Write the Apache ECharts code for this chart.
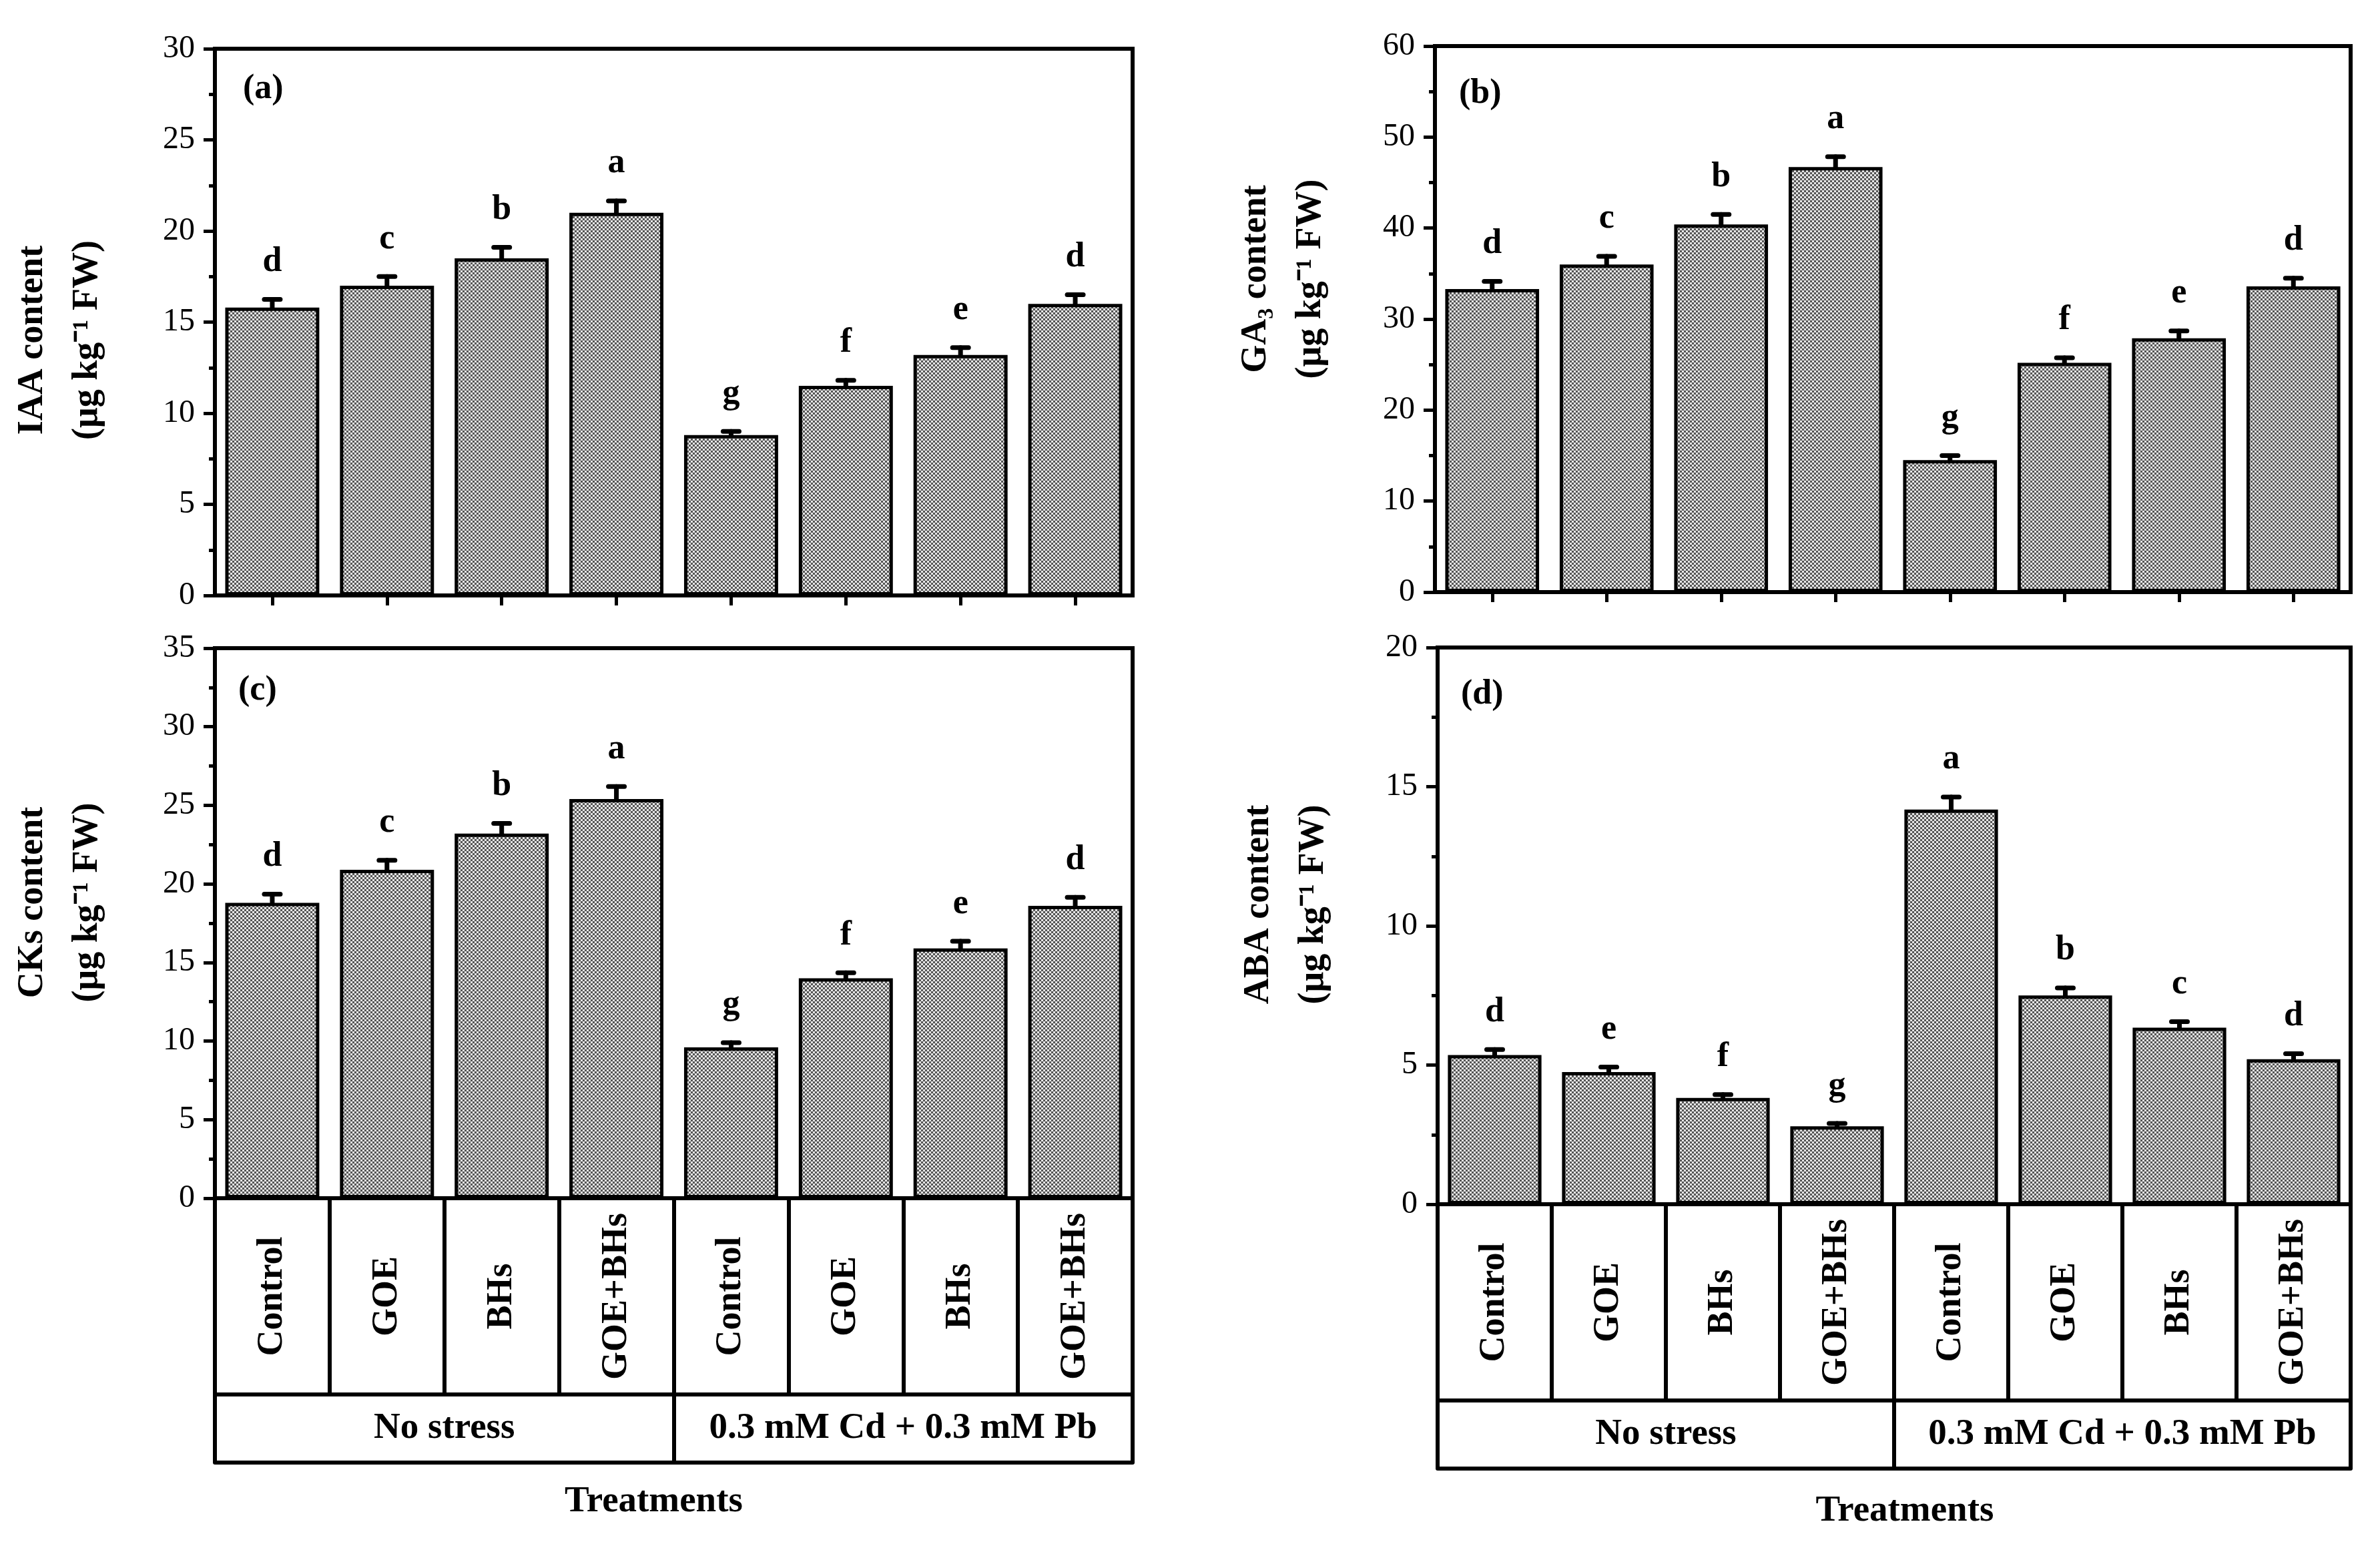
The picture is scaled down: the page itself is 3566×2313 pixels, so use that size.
<!DOCTYPE html>
<html><head><meta charset="utf-8">
<script src="https://cdn.jsdelivr.net/npm/echarts@6/dist/echarts.min.js"></script>
<style>html,body{margin:0;padding:0;background:#fff}#c{width:3566px;height:2313px}</style>
</head><body><div id="c"></div><script>
// ---------- data ----------
const categories = ['Control','GOE','BHs','GOE+BHs','Control','GOE','BHs','GOE+BHs'];
const groups = ['No stress','0.3 mM Cd + 0.3 mM Pb'];

const iaaMean = [15.8, 17.0, 18.5, 21.0, 8.8, 11.5, 13.2, 16.0];
const iaaErr  = [0.45, 0.5, 0.6, 0.65, 0.2, 0.3, 0.4, 0.5];
const iaaLetters = ['d','c','b','a','g','f','e','d'];

const ga3Mean = [33.3, 36.0, 40.4, 46.7, 14.5, 25.2, 27.9, 33.6];
const ga3Err  = [0.85, 0.9, 1.1, 1.15, 0.5, 0.55, 0.8, 0.9];
const ga3Letters = ['d','c','b','a','g','f','e','d'];

const ckMean = [18.8, 20.9, 23.2, 25.4, 9.6, 14.0, 15.9, 18.6];
const ckErr  = [0.55, 0.6, 0.65, 0.8, 0.3, 0.35, 0.45, 0.55];
const ckLetters = ['d','c','b','a','g','f','e','d'];

const abaMean = [5.36, 4.75, 3.82, 2.8, 14.18, 7.5, 6.34, 5.21];
const abaErr  = [0.2, 0.18, 0.12, 0.1, 0.45, 0.27, 0.22, 0.2];
const abaLetters = ['d','e','f','g','a','b','c','d'];

const yMaxA = 30, yStepA = 5;
const yMaxB = 60, yStepB = 10;
const yMaxC = 35, yStepC = 5;
const yMaxD = 20, yStepD = 5;

// ---------- style ----------
const FF = '"Liberation Serif", "Times New Roman", serif';
const pc = document.createElement('canvas'); pc.width = 6; pc.height = 6;
const pctx = pc.getContext('2d');
pctx.fillStyle = '#e6e6e6'; pctx.fillRect(0,0,6,6);
pctx.fillStyle = '#555'; pctx.fillRect(0,0,3,3); pctx.fillRect(3,3,3,3);
const barFill = {image: pc, repeat: 'repeat'};

const panels = [
  {mean: iaaMean, err: iaaErr, letters: iaaLetters, max: yMaxA, step: yStepA,
   name: 'IAA content\n(μg kg⁻¹ FW)', grid: {left: 322, top: 73, width: 1375, height: 819}, table: false, gap: 150,
   npad: [0, 54, 0, 0], label: '(a)', lx: 364, ly: 108, tgap: 0, tpad: 0},
  {mean: ga3Mean, err: ga3Err, letters: ga3Letters, max: yMaxB, step: yStepB,
   name: 'GA₃ content\n(μg kg⁻¹ FW)', grid: {left: 2150, top: 69, width: 1372, height: 818}, table: false, gap: 145,
   npad: [0, 0, 0, 120], label: '(b)', lx: 2186, ly: 115, tgap: 0, tpad: 0},
  {mean: ckMean, err: ckErr, letters: ckLetters, max: yMaxC, step: yStepC,
   name: 'CKs content\n(μg kg⁻¹ FW)', grid: {left: 322, top: 971, width: 1375, height: 824}, table: true, gap: 150,
   npad: [0, 0, 0, 62], label: '(c)', lx: 357, ly: 1009, tgap: 31, tpad: [0, 60, 0, 0]},
  {mean: abaMean, err: abaErr, letters: abaLetters, max: yMaxD, step: yStepD,
   name: 'ABA content\n(μg kg⁻¹ FW)', grid: {left: 2154, top: 970, width: 1368, height: 834}, table: true, gap: 145,
   npad: [0, 0, 0, 64], label: '(d)', lx: 2189, ly: 1015, tgap: 36, tpad: [0, 0, 0, 32]}
];

const ROW1 = 294, ROW2 = 102;
const grids = [], xAxes = [], yAxes = [], series = [], titles = [];
const lineW = 6;

panels.forEach((p, gi) => {
  grids.push(Object.assign({show: true, borderColor: '#000', borderWidth: lineW, backgroundColor: 'transparent'}, p.grid));
  titles.push({text: p.label, left: p.lx, top: p.ly, padding: 0,
    textStyle: {fontSize: 52, fontWeight: 'bold', fontFamily: FF, color: '#000'}});
  yAxes.push({
    gridIndex: gi, type: 'value', min: 0, max: p.max, interval: p.step,
    axisLine: {show: true, lineStyle: {color: '#000', width: lineW}},
    axisTick: {show: true, inside: false, length: 17, lineStyle: {color: '#000', width: 5}},
    minorTick: {show: true, splitNumber: 2, length: 9, lineStyle: {color: '#000', width: 5}},
    splitLine: {show: false},
    axisLabel: {margin: 30, fontSize: 48, color: '#000', fontFamily: FF},
    name: p.name, nameLocation: 'middle', nameRotate: 90, nameGap: p.gap,
    nameTextStyle: {fontSize: 54, fontWeight: 'bold', fontFamily: FF, color: '#000', lineHeight: 82, padding: p.npad}
  });
  const xMain = xAxes.length;
  if (!p.table) {
    xAxes.push({
      gridIndex: gi, type: 'category', data: categories, position: 'bottom',
      axisLine: {show: true, lineStyle: {color: '#000', width: lineW}},
      axisTick: {show: true, alignWithLabel: true, interval: 0, length: 15, lineStyle: {color: '#000', width: 5}},
      axisLabel: {show: false}
    });
  } else {
    xAxes.push({
      gridIndex: gi, type: 'category', data: categories, position: 'bottom',
      axisLine: {show: true, lineStyle: {color: '#000', width: lineW}},
      axisTick: {show: true, alignWithLabel: false, interval: 0, length: ROW1, lineStyle: {color: '#000', width: lineW}},
      axisLabel: {show: true, interval: 0, rotate: 90, align: 'center', verticalAlign: 'middle', margin: ROW1 / 2,
        fontSize: 54, fontWeight: 'bold', fontFamily: FF, color: '#000'}
    });
    xAxes.push({
      gridIndex: gi, type: 'category', data: groups, position: 'bottom', offset: ROW1,
      axisLine: {show: true, lineStyle: {color: '#000', width: lineW}},
      axisTick: {show: true, alignWithLabel: false, interval: 0, length: ROW2, lineStyle: {color: '#000', width: lineW}},
      axisLabel: {show: true, interval: 0, verticalAlign: 'middle', margin: ROW2 / 2,
        fontSize: 55, fontWeight: 'bold', fontFamily: FF, color: '#000'}
    });
    xAxes.push({
      gridIndex: gi, type: 'category', data: groups, position: 'bottom', offset: ROW1 + ROW2,
      axisLine: {show: true, lineStyle: {color: '#000', width: lineW}},
      axisTick: {show: false}, axisLabel: {show: false},
      name: 'Treatments', nameLocation: 'middle', nameGap: p.tgap,
      nameTextStyle: {fontSize: 55, fontWeight: 'bold', fontFamily: FF, color: '#000', padding: p.tpad}
    });
  }
  series.push({
    type: 'bar', xAxisIndex: xMain, yAxisIndex: gi, data: p.mean, barWidth: '82%',
    itemStyle: {color: barFill, borderColor: '#000', borderWidth: 5},
    silent: true, animation: false
  });
  const letters = p.letters;
  series.push({
    type: 'custom', xAxisIndex: xMain, yAxisIndex: gi, animation: false, silent: true, clip: false,
    data: p.mean.map((m, i) => [i, m, m - p.err[i], m + p.err[i]]),
    renderItem: (params, api) => {
      const x = api.value(0);
      const pHi = api.coord([x, api.value(3)]);
      const pLo = api.coord([x, api.value(2)]);
      const hw = 12;
      const st = {stroke: '#000', lineWidth: 7, lineCap: 'round'};
      return {type: 'group', children: [
        {type: 'line', shape: {x1: pHi[0], y1: pHi[1], x2: pLo[0], y2: pLo[1]}, style: st},
        {type: 'line', shape: {x1: pHi[0] - hw, y1: pHi[1], x2: pHi[0] + hw, y2: pHi[1]}, style: st},
        {type: 'line', shape: {x1: pLo[0] - hw, y1: pLo[1], x2: pLo[0] + hw, y2: pLo[1]}, style: st},
        {type: 'text', x: pHi[0], y: pHi[1] - 30,
         style: {text: letters[params.dataIndex], align: 'center', verticalAlign: 'bottom',
                 fontSize: 52, fontWeight: 'bold', fontFamily: FF, fill: '#000'}}
      ]};
    }
  });
});

const chart = echarts.init(document.getElementById('c'), null, {renderer: 'canvas'});
chart.setOption({
  backgroundColor: '#fff', animation: false,
  title: titles, grid: grids, xAxis: xAxes, yAxis: yAxes, series: series
});
</script></body></html>
